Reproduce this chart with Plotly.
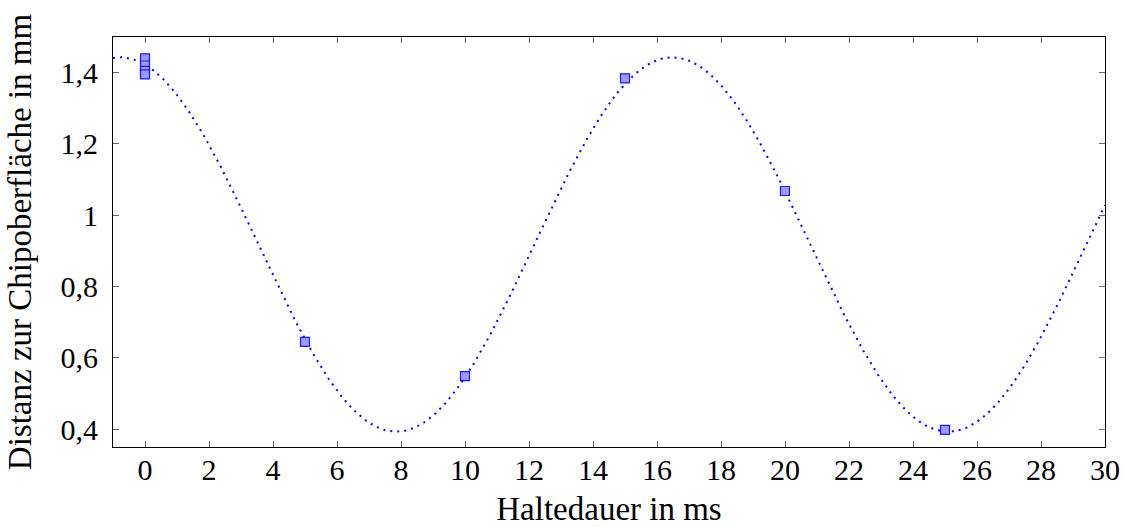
import numpy as np
import plotly.graph_objects as go

# Measured distances to the chip surface
haltedauer_ms = [0, 0, 0, 0, 5, 10, 15, 20, 25]
distanz_mm = [1.44, 1.42, 1.405, 1.395, 0.645, 0.549, 1.384, 1.068, 0.398]

# Parameters of the fitted oscillation y = mean + amp * cos(2*pi*(t - t_max)/period)
fit_mean = 0.918
fit_amp = 0.525
fit_period = 17.25
fit_t_max = 16.48

x_ticks = list(range(0, 31, 2))
y_ticks = [0.4, 0.6, 0.8, 1.0, 1.2, 1.4]

t_fit = np.linspace(-1, 30, 600)
y_fit = fit_mean + fit_amp * np.cos(2 * np.pi * (t_fit - fit_t_max) / fit_period)

font_family = "Liberation Serif, DejaVu Serif, serif"

fig = go.Figure()
fig.add_trace(go.Scatter(
    x=t_fit, y=y_fit, mode="lines",
    line=dict(color="#0000ff", width=2, dash="2px,5px"),
    hoverinfo="skip", showlegend=False,
))
fig.add_trace(go.Scatter(
    x=haltedauer_ms, y=distanz_mm, mode="markers",
    marker=dict(symbol="square", size=9, color="#9a9aff",
                line=dict(color="#1a1aff", width=1.2)),
    showlegend=False,
))

axis_common = dict(
    showgrid=False, zeroline=False, automargin=False,
    showline=True, linecolor="black", linewidth=1.2, mirror="ticks",
    ticks="inside", ticklen=6, tickwidth=1, tickcolor="#666666",
    tickfont=dict(family=font_family, size=30, color="black"),
)

fig.update_layout(
    width=1124, height=527,
    margin=dict(l=113, r=19, t=37, b=80),
    paper_bgcolor="white", plot_bgcolor="white",
    separators=",.",
    font=dict(family=font_family, color="black"),
    xaxis=dict(
        range=[-1, 30], tickvals=x_ticks,
        title=dict(text="Haltedauer in ms", font=dict(family=font_family, size=33), standoff=20),
        **axis_common,
    ),
    yaxis=dict(
        range=[0.35, 1.5], tickvals=y_ticks,
        title=dict(text="Distanz zur Chipoberfläche in mm", font=dict(family=font_family, size=33), standoff=18),
        **axis_common,
    ),
)
fig.update_xaxes(ticklabelstandoff=-4)
fig.update_yaxes(ticklabelstandoff=8)

fig.write_html("out.html")
